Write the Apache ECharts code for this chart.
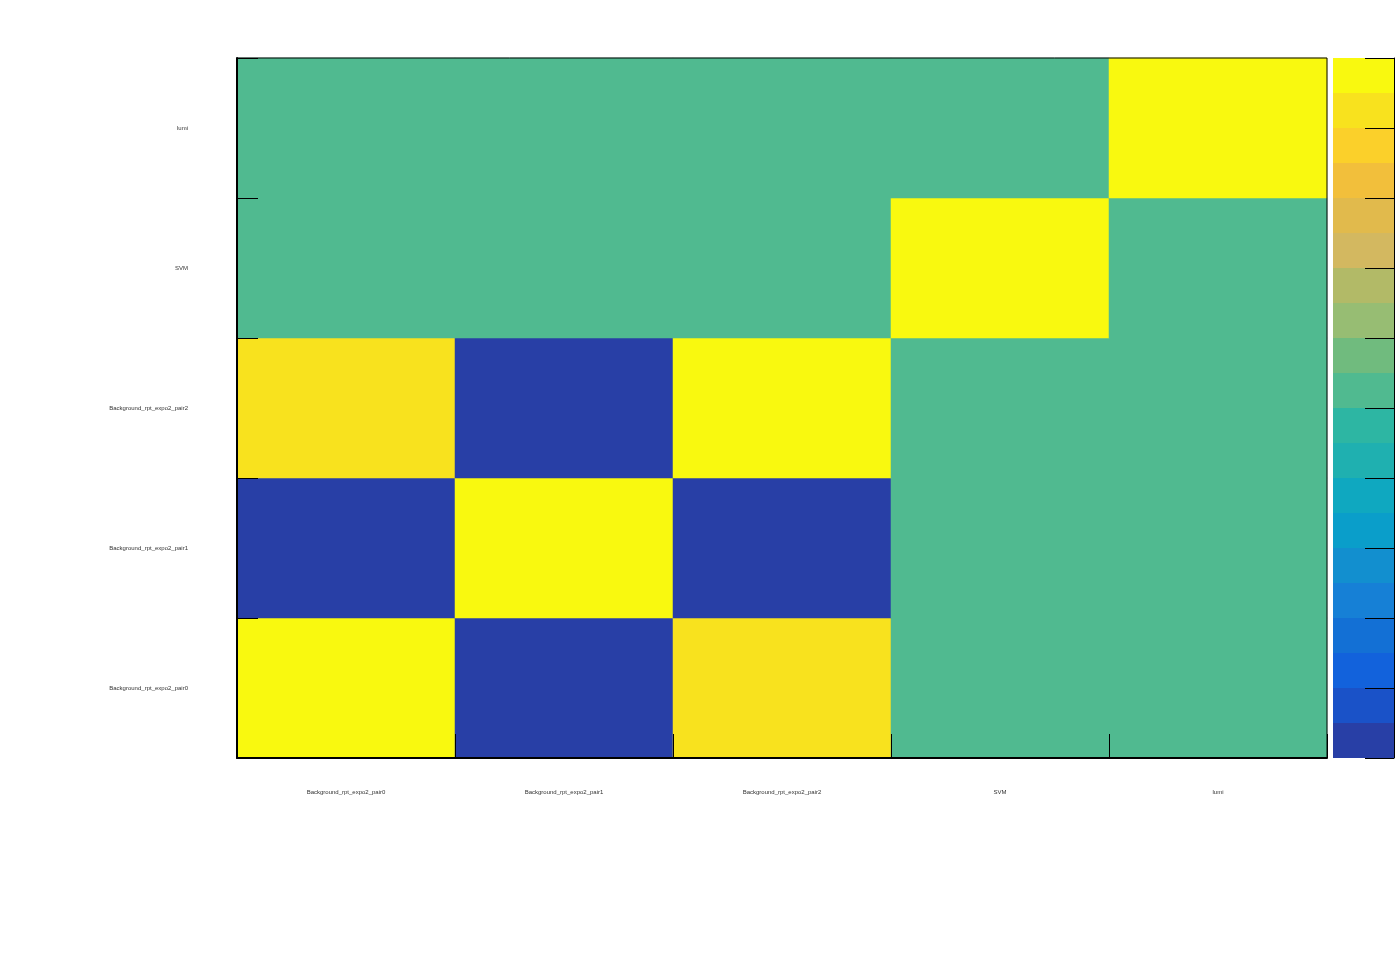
<!DOCTYPE html>
<html>
<head>
<meta charset="utf-8">
<script src="https://cdn.jsdelivr.net/npm/echarts@6/dist/echarts.min.js"></script>
<style>
  html, body { margin: 0; padding: 0; background: #fff; }
  #chart { width: 1396px; height: 972px; }
</style>
</head>
<body>
<div id="chart"></div>
<script>
// parameter names, bottom to top on the y axis, left to right on x
const params = [
  'Background_rpt_expo2_pair0',
  'Background_rpt_expo2_pair1',
  'Background_rpt_expo2_pair2',
  'SVM',
  'lumi',
];

// correlation matrix rows (same order as params)
const corrRow0 = [1.0, -0.95, 0.87, 0.0, 0.0];
const corrRow1 = [-0.95, 1.0, -0.95, 0.0, 0.0];
const corrRow2 = [0.87, -0.95, 1.0, 0.0, 0.0];
const corrRow3 = [0.0, 0.0, 0.0, 1.0, 0.0];
const corrRow4 = [0.0, 0.0, 0.0, 0.0, 1.0];
const corrRows = [corrRow0, corrRow1, corrRow2, corrRow3, corrRow4];

// palette bands from -1 to 1, 0.1 wide each
const bandEdges = [-1.0, -0.9, -0.8, -0.7, -0.6, -0.5, -0.4, -0.3, -0.2, -0.1,
  0.0, 0.1, 0.2, 0.3, 0.4, 0.5, 0.6, 0.7, 0.8, 0.9, 1.0];
const bandColors = [
  '#283FA6', '#1A52C8', '#1262DC', '#1370D5', '#1680D6',
  '#128FCF', '#0A9ECA', '#0FA8C0', '#1FB0B0', '#2DB6A3',
  '#50BA90', '#70BB7E', '#97BD73', '#B2BA67', '#D3B860',
  '#E1BA4C', '#F2BF3B', '#FBD02A', '#F8E21E', '#F9F90F',
];

const heatData = [];
corrRows.forEach((row, yi) => {
  row.forEach((v, xi) => {
    heatData.push([xi, yi, v]);
  });
});

const pieces = bandColors.map((c, i) => {
  const p = { gte: bandEdges[i], color: c };
  if (i === bandColors.length - 1) p.lte = bandEdges[i + 1];
  else p.lt = bandEdges[i + 1];
  return p;
});

const barData = bandColors.map((c, i) => [0, bandEdges[i], bandEdges[i + 1], i]);

const labelFont = {
  fontFamily: 'Liberation Sans, Arial, sans-serif',
  fontSize: 6,
  color: '#333',
};

const option = {
  animation: false,
  backgroundColor: '#fff',
  grid: [
    {
      left: 237, top: 58, width: 1090, height: 700,
      show: true, borderColor: '#000', borderWidth: 1, z: 5,
    },
    {
      left: 1333, top: 58, width: 61, height: 700,
    },
  ],
  xAxis: [
    {
      type: 'category',
      gridIndex: 0,
      data: params,
      z: 10,
      axisLine: { show: true, onZero: false, lineStyle: { color: '#000', width: 2 } },
      axisTick: { show: true, interval: 0, inside: true, length: 24, lineStyle: { color: '#000', width: 1 } },
      axisLabel: Object.assign({ margin: 31, interval: 0 }, labelFont),
      splitLine: { show: false },
    },
    {
      type: 'value',
      gridIndex: 1,
      min: 0, max: 1,
      show: false,
    },
  ],
  yAxis: [
    {
      type: 'category',
      gridIndex: 0,
      data: params,
      z: 10,
      axisLine: { show: true, onZero: false, lineStyle: { color: '#000', width: 2 } },
      axisTick: { show: true, interval: 0, inside: true, length: 21, lineStyle: { color: '#000', width: 1 } },
      axisLabel: Object.assign({ margin: 49, interval: 0 }, labelFont),
      splitLine: { show: false },
    },
    {
      type: 'value',
      gridIndex: 1,
      position: 'right',
      z: 10,
      min: -1, max: 1, interval: 0.2,
      axisLine: { show: true, onZero: false, lineStyle: { color: '#000', width: 1 } },
      axisTick: { show: true, inside: true, length: 29, lineStyle: { color: '#000', width: 1 } },
      axisLabel: { show: false },
      splitLine: { show: false },
    },
  ],
  visualMap: {
    type: 'piecewise',
    show: false,
    seriesIndex: 0,
    dimension: 2,
    pieces: pieces,
  },
  series: [
    {
      type: 'heatmap',
      xAxisIndex: 0,
      yAxisIndex: 0,
      data: heatData,
      itemStyle: { borderWidth: 0 },
      emphasis: { disabled: true },
      z: 1,
    },
    {
      type: 'custom',
      xAxisIndex: 1,
      yAxisIndex: 1,
      data: barData,
      z: 1,
      renderItem: (params, api) => {
        const lo = api.coord([0, api.value(1)]);
        const hi = api.coord([1, api.value(2)]);
        return {
          type: 'rect',
          shape: { x: lo[0], y: hi[1], width: hi[0] - lo[0], height: lo[1] - hi[1] },
          style: { fill: bandColors[api.value(3)] },
        };
      },
    },
  ],
};

const myChart = echarts.init(document.getElementById('chart'));
myChart.setOption(option);
</script>
</body>
</html>
